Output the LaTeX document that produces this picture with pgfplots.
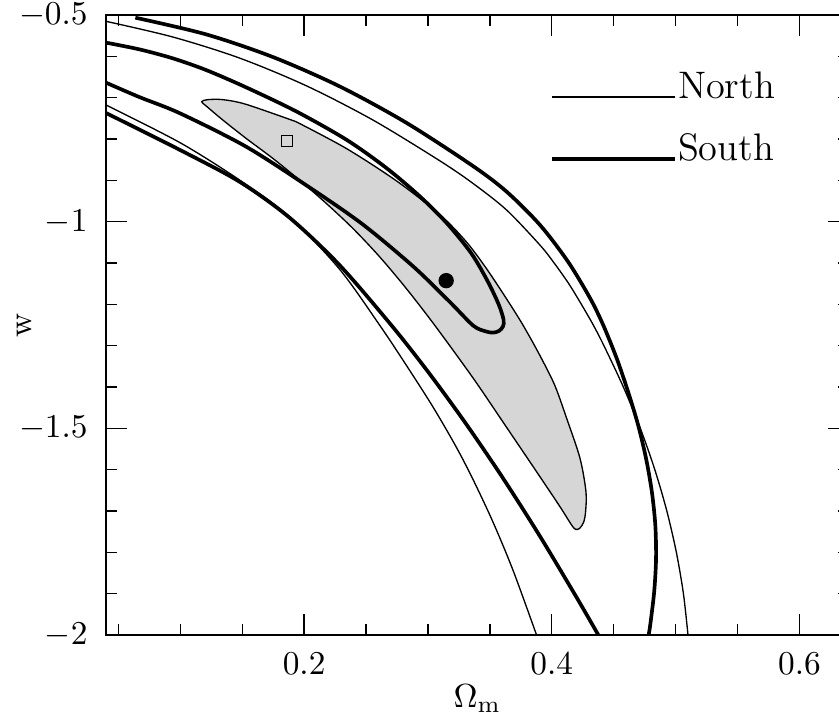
\documentclass[border=0pt]{standalone}
\usepackage{pgfplots}
\pgfplotsset{compat=1.18}

\begin{document}
\begin{tikzpicture}
\begin{axis}[
  name=ax, scale only axis,
  width=222.9pt, height=186pt,
  xmin=0.04, xmax=0.64, ymin=-2, ymax=-0.5,
  xtick={0.2,0.4,0.6}, ytick={-2,-1.5,-1,-0.5},
  minor xtick={0.05,0.1,0.15,0.25,0.3,0.35,0.45,0.5,0.55},
  minor ytick={-1.9,-1.8,-1.7,-1.6,-1.4,-1.3,-1.2,-1.1,-0.9,-0.8,-0.7,-0.6},
  tick align=inside, tick pos=both, ticklabel pos=left,
  major tick length=6.3pt, minor tick length=3.3pt,
  tick style={black, line width=0.4pt},
  axis line style={line width=0.6pt},
  xticklabel style={yshift=-2pt},
  yticklabel style={xshift=-2pt},
  xlabel={$\Omega_\mathrm{m}$}, ylabel={w},
  xlabel style={at={(axis description cs:0.5,-0.117)}, anchor=base},
  ylabel style={at={(axis description cs:-0.11,0.5)}, anchor=center},
]
% North 1 sigma (shaded)
\addplot[draw=black, line width=0.4pt, fill=black!16, smooth, tension=0.5] coordinates {
  (0.1935,-0.7581) (0.2339,-0.8226) (0.2743,-0.9008) (0.3094,-0.9823)
  (0.3309,-1.0484) (0.3471,-1.1129) (0.3632,-1.1855) (0.3767,-1.25)
  (0.3902,-1.3226) (0.4023,-1.3952) (0.4120,-1.4758) (0.4228,-1.5726)
  (0.4276,-1.6532) (0.4273,-1.7016) (0.4257,-1.7274) (0.4225,-1.7419)
  (0.4193,-1.7444) (0.4160,-1.7339) (0.4066,-1.6895) (0.3904,-1.6169)
  (0.3635,-1.4976) (0.3366,-1.3790) (0.3053,-1.25) (0.2824,-1.1613)
  (0.2609,-1.0847) (0.2393,-1.0161) (0.2178,-0.9556) (0.1962,-0.8992)
  (0.1747,-0.8468) (0.1531,-0.7984) (0.1343,-0.7540) (0.1222,-0.7234)
  (0.1173,-0.7097) (0.1222,-0.7048) (0.1343,-0.7048) (0.1531,-0.7161)
  (0.1935,-0.7581)} -- cycle;
% North 2 sigma, upper branch
\addplot[black, line width=0.4pt, smooth, tension=0.5] coordinates {
  (0.04,-0.5153) (0.0939,-0.5532) (0.1477,-0.6040) (0.2016,-0.6710)
  (0.2555,-0.7540) (0.3094,-0.8524) (0.3363,-0.9073) (0.3635,-0.9718)
  (0.3904,-1.0565) (0.4019,-1.1) (0.4137,-1.15) (0.4239,-1.2)
  (0.4335,-1.25) (0.4421,-1.3) (0.4578,-1.4) (0.4715,-1.5)
  (0.4832,-1.6) (0.4929,-1.7) (0.5006,-1.8) (0.5063,-1.9) (0.5100,-2.0)};
% North 2 sigma, lower branch
\addplot[black, line width=0.4pt, smooth, tension=0.5] coordinates {
  (0.04,-0.7177) (0.0998,-0.8089) (0.1477,-0.8989) (0.1881,-0.9878)
  (0.2286,-1.115) (0.2609,-1.25) (0.2824,-1.3468) (0.3040,-1.448)
  (0.3228,-1.545) (0.3366,-1.625) (0.3527,-1.728) (0.3689,-1.845)
  (0.3877,-2.0)};
% South 1 sigma
\addplot[black, line width=1.1pt, smooth, tension=0.5] coordinates {
  (0.04,-0.5669) (0.0669,-0.5831) (0.0939,-0.6048) (0.1208,-0.6331)
  (0.1537,-0.6758) (0.1941,-0.7339) (0.2345,-0.8024) (0.2668,-0.8710)
  (0.2937,-0.9395) (0.3153,-1.0040) (0.3350,-1.0766) (0.3484,-1.1452)
  (0.3573,-1.2016) (0.3611,-1.2379) (0.3605,-1.2540) (0.3573,-1.2645)
  (0.3525,-1.2685) (0.3465,-1.2653) (0.3366,-1.2516) (0.3174,-1.1935)
  (0.2883,-1.1089) (0.2480,-1.0081) (0.2075,-0.9234) (0.1537,-0.8195)
  (0.0998,-0.7379) (0.0669,-0.6985) (0.04,-0.6637)};
% South 2 sigma, upper branch
\addplot[black, line width=1.1pt, smooth, tension=0.5] coordinates {
  (0.0637,-0.5065) (0.1208,-0.5468) (0.1747,-0.6016) (0.2286,-0.6726)
  (0.2824,-0.7605) (0.3363,-0.8653) (0.3635,-0.9274) (0.3905,-1.0081)
  (0.4131,-1.0968) (0.4310,-1.1855) (0.4415,-1.25) (0.4524,-1.3306)
  (0.4616,-1.4113) (0.4697,-1.4919) (0.4761,-1.5726) (0.4808,-1.6532)
  (0.4836,-1.7339) (0.4842,-1.8145) (0.4827,-1.8952) (0.4795,-1.9758)
  (0.4782,-2.0)};
% South 2 sigma, lower branch
\addplot[black, line width=1.1pt, smooth, tension=0.5] coordinates {
  (0.04,-0.7371) (0.0998,-0.8266) (0.1477,-0.9032) (0.1881,-0.99)
  (0.2286,-1.105) (0.2703,-1.25) (0.30,-1.3629) (0.33,-1.4859)
  (0.36,-1.6179) (0.39,-1.7589) (0.42,-1.9089) (0.4376,-2.0)};
% best fits
\addplot[only marks, mark=square, mark size=1.7pt, mark options={black, line width=0.4pt}] coordinates {(0.1863,-0.805)};
\addplot[only marks, mark=*, mark size=2.1pt, mark options={black}] coordinates {(0.3147,-1.1427)};
% legend
\addplot[black, line width=0.4pt] coordinates {(0.4004,-0.698) (0.4998,-0.698)};
\addplot[black, line width=1.1pt] coordinates {(0.4004,-0.849) (0.4998,-0.849)};
\node[anchor=base west, inner sep=0pt, font=\fontsize{11.5}{13}\selectfont] at (axis cs:0.5014,-0.701) {North};
\node[anchor=base west, inner sep=0pt, font=\fontsize{11.5}{13}\selectfont] at (axis cs:0.5014,-0.8525) {South};
\end{axis}
\pgfresetboundingbox
\path[use as bounding box] ([shift={(-31.8pt,-23.7pt)}]ax.south west) rectangle ([shift={(219.9pt,190.5pt)}]ax.south west);
\end{tikzpicture}
\end{document}
